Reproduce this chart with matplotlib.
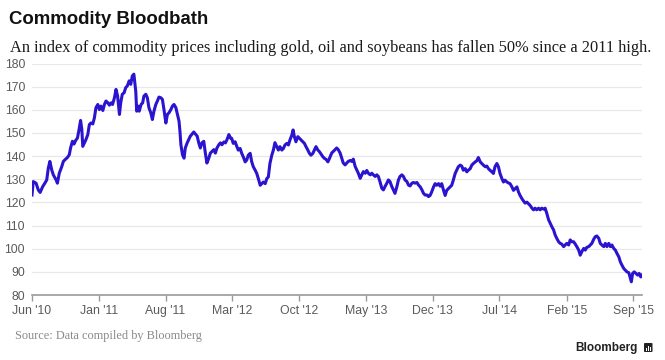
import numpy as np
import matplotlib
matplotlib.use("Agg")
import matplotlib.pyplot as plt
from matplotlib.patches import FancyBboxPatch, Rectangle

# ---------------- data ----------------
start_date = "2010-06-01"

# days since start_date, index values
days_a = [0, 4, 13, 20, 26, 34, 41, 47, 52, 57, 63, 68, 77, 81, 87, 95, 100, 105, 113, 119,
          123, 129, 134, 139, 145, 150, 155, 159, 162, 167, 172, 178, 183, 188, 194, 199, 204, 210, 215, 220,
          226, 231, 236, 242, 247, 252, 257, 263, 268, 273, 279, 283, 288, 294, 299, 304, 310, 315, 320, 325]
vals_a = [123.2, 129, 128.3, 125.4, 124.3, 126.8, 128.3, 129.7, 134.8, 137.7, 134, 131.9, 129.7, 128.3, 132.6,
          135.5, 137.7, 138.4, 139.4, 140.6, 143.5, 146.4, 145.2, 146.7, 147.8, 151.4, 155.4, 151.4, 144.2, 145.7,
          147.1, 149.3, 153.6, 154.3, 153.9, 156.5, 160.9, 162.3, 160.1, 161.6, 159.7, 162.3, 163.8, 163, 162,
          163, 162.3, 165.2, 168.8, 166, 158, 163, 166.7, 167.4, 169.6, 170.3, 172.5, 171, 174.6, 175.4]

days_b = [331, 334, 338, 342, 348, 353, 357, 363, 368, 373, 379, 384, 389, 395, 400, 405, 411, 416, 421, 427,
          432, 437, 443, 448, 453, 459, 464, 469, 472, 475, 480, 485, 489, 495, 500, 505, 511, 516, 521, 527,
          532, 537, 542, 548, 553, 558, 564, 569, 574, 580, 585, 590, 596, 601, 606, 612, 617, 622, 628, 633]
vals_b = [168, 159.4, 161.6, 159.4, 162.3, 163, 165.9, 166.7, 165.2, 160.9, 158.7, 155.8, 159.4, 162.3, 163.8,
          165.5, 165.2, 164.5, 160.1, 154.3, 158, 158.7, 160.1, 161.6, 162.3, 160.9, 158, 155.1, 150.7, 144.9,
          140.6, 139.1, 143.5, 145.7, 147.1, 148.6, 149.6, 150.4, 149.6, 148.6, 145.7, 143.5, 145.7, 146.4, 141.3,
          137, 139.1, 141.3, 142, 142.8, 141.3, 143.5, 144.9, 145.7, 144.9, 146.1, 145.7, 147.1, 149.3, 147.8]

days_c = [637, 642, 648, 653, 658, 664, 669, 674, 680, 685, 690, 696, 701, 706, 712, 717, 722, 728, 733, 738,
          744, 749, 754, 759, 765, 770, 775, 781, 786, 791, 797, 802, 807, 813, 818, 823, 829, 833, 837, 842,
          848, 853, 858, 864, 869, 874, 880, 885, 890, 896, 901, 906, 912, 917, 922, 928, 933, 938, 944, 949]
vals_c = [147.7, 145.5, 146.2, 144.3, 142.6, 143.3, 141.2, 139.7, 137.5, 138.3, 140.4, 141.2, 137.5, 135.4, 133.9,
          132.5, 130.3, 127.4, 128.1, 128.8, 128.1, 130.3, 131, 136.8, 140.4, 142.6, 145.8, 144.1, 142.6, 144.1,
          142.6, 143.3, 144.8, 145.5, 144.8, 147, 149.1, 151.3, 148.4, 146.2, 148.4, 147.7, 147, 146.2, 145.5,
          144.1, 142.6, 141.2, 140.4, 141.2, 142.6, 144.1, 142.6, 141.9, 140.9, 139.7, 139, 138.6, 137.5, 139]

days_d = [956, 961, 972, 977, 983, 988, 993, 999, 1004, 1009, 1015, 1020, 1025, 1031, 1036, 1041, 1047, 1052,
          1057, 1063, 1068, 1073, 1079, 1084, 1089, 1095, 1100, 1105, 1110, 1116, 1121, 1126, 1132, 1137, 1142,
          1148, 1153, 1158, 1164, 1169, 1174, 1180, 1185, 1190, 1196, 1201, 1206, 1212, 1217, 1222, 1228, 1233,
          1238, 1244, 1249, 1254, 1260, 1265]
vals_d = [141.3, 142, 143.5, 142.8, 141.3, 139.1, 137, 136.2, 137, 137.7, 138.1, 137.7, 138.7, 135.5, 134.1,
          132.6, 130.4, 131.9, 133.3, 132.6, 133.8, 132.6, 131.9, 132.6, 131.9, 131.2, 131.9, 131.2, 129, 126.1,
          125.4, 126.8, 128.3, 129.7, 129, 126.8, 125.4, 123.9, 126.8, 129.7, 131.2, 131.9, 131.2, 129.7, 129,
          127.5, 127.1, 128.3, 128.6, 128.3, 128.6, 127.5, 126.8, 125.4, 123.9, 123.2, 123.2, 122.5]

days_e = [1270, 1275, 1281, 1286, 1291, 1297, 1302, 1307, 1313, 1318, 1323, 1328, 1334, 1339, 1344, 1350, 1355,
          1360, 1366, 1371, 1376, 1382, 1387, 1392, 1398, 1403, 1408, 1414, 1419, 1424, 1430, 1435, 1440, 1446,
          1451, 1456, 1461, 1467, 1472, 1477, 1483, 1488, 1493, 1499, 1504, 1509, 1515, 1520, 1525, 1531, 1536,
          1541, 1547, 1552, 1557, 1563, 1568, 1573, 1579, 1584, 1589]
vals_e = [123, 124.5, 126.7, 128.1, 127.4, 128.1, 127, 128.1, 125.2, 123, 125.2, 125.9, 126.7, 127.4, 129.6,
          132.5, 133.9, 135.4, 136.1, 135.7, 133.9, 134.6, 133.2, 133.9, 134.6, 136.1, 136.8, 137.5, 138, 139.4,
          137.5, 136.8, 136.1, 135.4, 135.7, 134.6, 133.9, 133.2, 132.5, 135.4, 136.8, 135.4, 132.5, 130.3, 128.8,
          129.6, 128.8, 128.4, 128.1, 126.7, 125.2, 125.9, 126.7, 124.5, 123, 121.6, 120.6, 119.7, 120.1, 119.4,
          118.7]

days_f = [1595, 1600, 1605, 1610, 1616, 1621, 1626, 1632, 1637, 1642, 1648, 1653, 1658, 1664, 1669, 1674, 1680,
          1685, 1690, 1696, 1701, 1706, 1712, 1717, 1722, 1728, 1733, 1738, 1744, 1749, 1754, 1760, 1765, 1770,
          1776, 1781, 1786, 1792, 1797, 1802, 1808, 1813, 1818, 1824, 1829, 1834, 1840, 1845, 1850, 1856, 1861,
          1866, 1872, 1877, 1882, 1888, 1893, 1898, 1904, 1909, 1912, 1916, 1921, 1927, 1932, 1937, 1942, 1946]
vals_f = [117.5, 116.8, 117.5, 116.8, 117.5, 116.8, 117.5, 117.1, 117.5, 115.4, 112.5, 111, 109.6, 108.1, 105.9,
          104.5, 103, 102.3, 102, 100.9, 101.6, 102.3, 101.6, 103.8, 103, 103, 102, 100.9, 99.4, 97.2, 98.7,
          100.1, 99.4, 100.6, 100.9, 101.6, 102.3, 104.1, 105.2, 105.5, 104.5, 102.3, 101.6, 100.9, 102.3, 100.9,
          102.3, 100.9, 101.6, 100.1, 99.4, 98, 96.5, 94.3, 92.9, 91.4, 90.7, 90, 89.6, 87.1, 85.7, 89.3, 90,
          89.3, 88.6, 89.3, 87.8, 88.6]

tick_dates = ["2010-06-01", "2011-01-01", "2011-08-01", "2012-03-01", "2012-10-01",
              "2013-05-01", "2013-12-01", "2014-07-01", "2015-02-01", "2015-09-01"]
tick_labels = ["Jun '10", "Jan '11", "Aug '11", "Mar '12", "Oct '12",
               "May '13", "Dec '13", "Jul '14", "Feb '15", "Sep '15"]
y_ticks = [80, 90, 100, 110, 120, 130, 140, 150, 160, 170, 180]

title = "Commodity Bloodbath"
subtitle = "An index of commodity prices including gold, oil and soybeans has fallen 50% since a 2011 high."
source = "Source: Data compiled by Bloomberg"

# ---------------- assemble ----------------
days = np.array(days_a + days_b + days_c + days_d + days_e + days_f)
vals = np.array(vals_a + vals_b + vals_c + vals_d + vals_e + vals_f)
assert len(days) == len(vals)
dates = np.datetime64(start_date) + days.astype("timedelta64[D]")
dates = dates.astype("datetime64[ms]").astype(object)

W, H = 665, 360
fig = plt.figure(figsize=(W / 100, H / 100), dpi=100)
fig.patch.set_facecolor("white")

ax = fig.add_axes([32 / W, 1 - 295 / H, 610 / W, (295 - 63.5) / H])
ax.plot(dates, vals, color="#2b14cf", lw=2.2, solid_joinstyle="round", zorder=3)

ax.set_ylim(80, 180)
ax.set_xlim(dates[0], dates[-1])
ax.set_yticks(y_ticks)
ax.set_yticklabels([str(v) for v in y_ticks])
tick_dt = [np.datetime64(d).astype("datetime64[ms]").astype(object) for d in tick_dates]
ax.set_xticks(tick_dt)
ax.set_xticklabels(tick_labels)

for s in ["top", "right", "left"]:
    ax.spines[s].set_visible(False)
ax.spines["bottom"].set_color("#9a9a9a")
ax.spines["bottom"].set_linewidth(1.2)
ax.spines["bottom"].set_zorder(4)

ax.grid(axis="y", color="#e8e8e8", lw=0.9, zorder=0)
ax.set_axisbelow(True)
ax.tick_params(axis="y", length=0, pad=5, labelsize=8.8, labelcolor="#5a5a5a")
ax.tick_params(axis="x", length=4, width=1, color="#9a9a9a", pad=3, labelsize=8.8, labelcolor="#5a5a5a")
for lab in ax.get_xticklabels() + ax.get_yticklabels():
    lab.set_family("Liberation Sans")

renderer = fig.canvas.get_renderer()


def fitted_text(x_px, y_px, s, target_w, **kw):
    t = fig.text(x_px / W, 1 - y_px / H, s, va="baseline", ha="left", **kw)
    w = t.get_window_extent(renderer).width
    t.set_fontsize(t.get_fontsize() * target_w / w)
    return t


fitted_text(9, 23.5, title, 199, family="Liberation Sans", weight="bold", fontsize=13, color="#111111")
fitted_text(9.5, 52, subtitle, 643, family="Liberation Serif", fontsize=11, color="#1a1a1a")
fitted_text(15, 339.5, source, 185, family="Liberation Serif", fontsize=8, color="#8a8a8a")
fitted_text(575, 351, "Bloomberg", 62, family="Liberation Sans", weight="bold", fontsize=9, color="#222222")

# Bloomberg icon
ix, iy, iw, ih = 644, 343, 8.5, 9
fig.patches.append(FancyBboxPatch((ix / W, 1 - (iy + ih) / H), iw / W, ih / H,
                                  boxstyle="round,pad=0,rounding_size=0.002",
                                  transform=fig.transFigure, color="#222222", lw=0))
for bx, bh in [(1.8, 3.0), (3.8, 5.0), (5.8, 4.0)]:
    fig.patches.append(Rectangle(((ix + bx) / W, 1 - (iy + ih - 1.5) / H), 1.1 / W, bh / H,
                                 transform=fig.transFigure, color="white", lw=0))

fig.savefig("out.png", dpi=100)
